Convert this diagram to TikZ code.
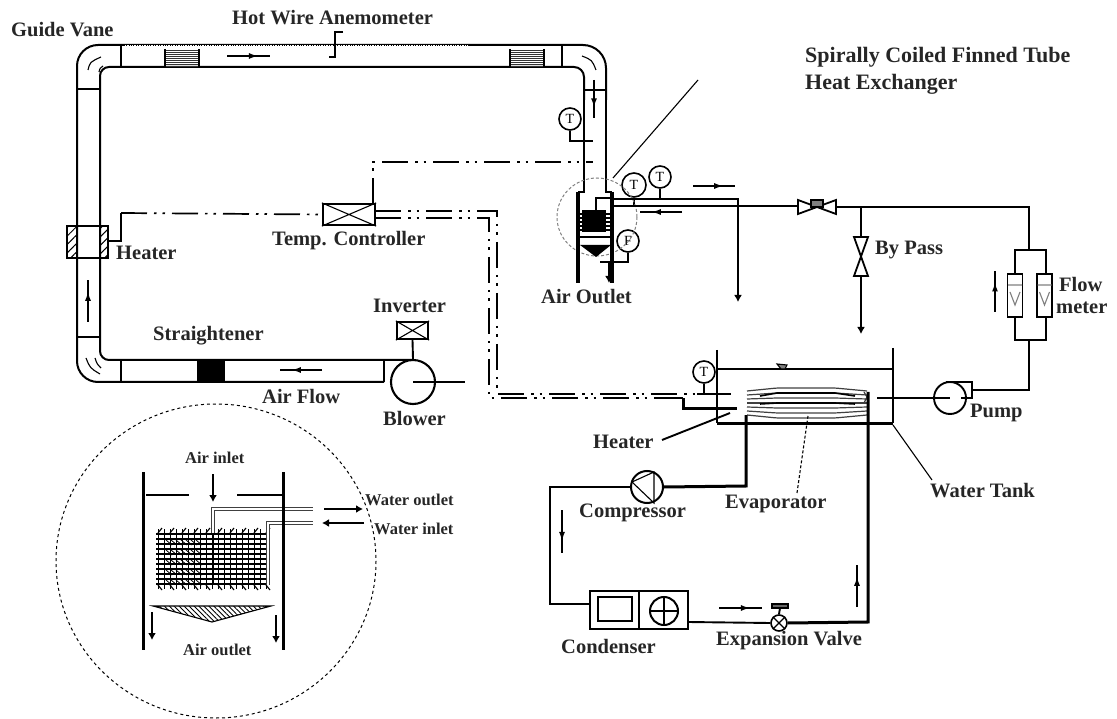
\documentclass[tikz,border=0pt]{standalone}
\usepackage{fontspec}
\setmainfont{Liberation Serif}
\usepackage{tikz}
\usetikzlibrary{arrows.meta, decorations.markings, patterns.meta}

\tikzset{
  lbl/.style={font=\fontsize{20.5}{27}\selectfont\bfseries, anchor=west, inner sep=0pt, text=black!85},
  smalllbl/.style={font=\fontsize{16.5}{18}\selectfont\bfseries, anchor=west, inner sep=0pt, text=black!85},
  duct/.style={line width=2pt},
  thin line/.style={line width=1.1pt},
  pipe/.style={line width=1.9pt},
  fatpipe/.style={line width=3pt},
  ctrlwire/.style={line width=1.7pt, dash pattern=on 26pt off 7pt on 2.5pt off 6pt on 2.5pt off 7pt},
  flow/.style={line width=1.5pt, decoration={markings, mark=at position 0.72 with {\arrow{Latex[length=9pt,width=6pt]}}}, postaction={decorate}},
  fatflow/.style={line width=2.8pt, -{Latex[length=7pt,width=8pt]}},
  gauge/.style={circle, draw, line width=1.6pt, minimum size=22pt, inner sep=0pt, font=\fontsize{14}{15}\selectfont, fill=white},
  xbox/.style={draw, line width=2.2pt, minimum width=#1, inner sep=0pt, fill=white},
  bowtie/.style={draw, line width=1.8pt, fill=white},
  tubepipe/.style={line width=3.4pt, black!75},
  tubecore/.style={line width=1.1pt, white},
}

\begin{document}
\begin{tikzpicture}[x=1pt, y=-1pt]
\useasboundingbox (0,0) rectangle (1117,719);

% air duct
\draw[duct, rounded corners=21pt] (121,45) -- (77,45) -- (77,382) -- (384,382);
\draw[duct, rounded corners=9pt] (121,67) -- (100,67) -- (100,360) -- (413,360);
\draw[duct, rounded corners=23pt] (121,45) -- (606,45) -- (606,100);
\draw[duct] (606,100) -- (606,192) -- (612,192);
\draw[duct, rounded corners=10pt] (121,67) -- (584,67) -- (584,100);
\draw[duct] (584,100) -- (584,192) -- (578,192);
\draw[thin line] (121,45) -- (121,67) (562,45) -- (562,67);
\draw[thin line] (77,89) -- (100,89) (584,90) -- (606,90) (77,337) -- (100,337) (121,360) -- (121,382);
\draw[thin line] (384,360) -- (384,382);
\draw[line width=0.7pt, densely dotted, white] (125,45) -- (468,45);
% guide vanes
\draw[thin line] (88,70) .. controls (90,62) .. (101,57);
\draw[thin line] (99,72) .. controls (100,68) .. (103,66);
\draw[thin line] (582,56) .. controls (592,60) .. (596,70);
\draw[thin line] (86,358) .. controls (90,368) .. (100,374);
\draw[thin line] (95,358) .. controls (97,364) .. (101,368);
% honeycomb pieces
\foreach \x in {165,510} {
  \foreach \y in {50,52,...,66} \draw[line width=0.8pt, black!80] (\x,\y) -- (\x+34,\y);
  \draw[thin line] (\x,49) -- (\x,67) (\x+34,49) -- (\x+34,67);
}
\fill (197,360) rectangle (225,382);
\draw[flow] (227,56) -- (270,56);
\draw[flow] (594,80) -- (594,118);
\draw[flow] (88,322) -- (88,280);
\draw[flow] (322,370) -- (280,370);
\draw[pipe] (343,32) -- (335,32) -- (335,57) -- (329,57);

% heater in duct
\fill[pattern={Lines[angle=45, distance=6pt, line width=1pt]}] (67,226) rectangle (77,258) (100,226) rectangle (108,258);
\draw[line width=2pt] (67,226) rectangle (108,258);
\coordinate (ductheat) at (108,241);

% controller and wires
\node[xbox=52pt, minimum height=21pt] (controller) at (349,214.5) {};
\draw[thin line] (controller.north west) -- (controller.south east) (controller.south west) -- (controller.north east);
\coordinate (wirebend) at (121,213);
\draw[pipe] (ductheat) -| (wirebend);
\draw[ctrlwire] (wirebend) -- (controller.west);
\coordinate (probetop) at (593,162);
\draw[ctrlwire] (373,204) -- (373,162) -- (probetop);
\coordinate (wireA) at (697,394);
\coordinate (wireB) at (673,398);
\draw[ctrlwire] (375,211) -- (497,211) -- (497,394) -- (wireA);
\draw[ctrlwire] (375,218) -- (489,218) -- (489,398) -- (wireB);

% blower and inverter
\node[circle, draw, line width=2.1pt, minimum size=44pt, inner sep=0pt, fill=white] (blower) at (413,382) {};
\coordinate (blowerout) at (465,382);
\draw[thin line] (blower.center) -- (blowerout);
\node[xbox=31pt, minimum height=17pt] (inverter) at (412.5,330.5) {};
\draw[thin line] (inverter.north west) -- (inverter.south east) (inverter.south west) -- (inverter.north east);
\draw[pipe] (inverter.south) -- (blower.north);

% gauges on the test section
\node[gauge] (gaugeA) at (570,119) {T};
\node[gauge, minimum size=24pt] (gaugeB) at (634,185) {T};
\node[gauge] (gaugeC) at (660,177) {T};
\node[gauge] (gaugeD) at (628,241) {F};
\coordinate (gaugeAend) at (593,141);
\coordinate (gaugeDend) at (600,262);
\draw[pipe] (gaugeA.south) |- (gaugeAend);
\draw[pipe] (gaugeD.south) |- (gaugeDend);
\draw[pipe] (gaugeC.south) -- (660,199);
\draw[pipe] (gaugeB.south) -- (634,206);

% small view of the heat exchanger
\draw[line width=1pt, densely dashed, gray] (597,217) ellipse[x radius=40, y radius=39];
\draw[thin line] (613,178) -- (698,80);
\fill (582,210) rectangle (606,232);
\foreach \y in {214,218,...,230} \draw[thin line] (576,\y) -- (612,\y);
\draw[line width=3.4pt] (578,192) -- (578,283) (612,192) -- (612,283);
\draw[pipe] (596,210) -- (596,198) -- (612,198);
\fill (580,245) -- (611,245) -- (596,257) -- cycle;
\draw[thin line] (580,237) -- (610,237);
\draw[fatflow, line width=2pt] (609,262) -- (609,283);

% water loop
\coordinate (loopin) at (612,199);
\coordinate (loopout) at (612,206);
\draw[line width=2.8pt] (loopin) -- (738,199) -- (738,285);
\draw[fatflow, line width=2.4pt] (738,280) -- (738,302);
\draw[line width=2.8pt] (loopout) -- (798,206);
\draw[flow] (693,186) -- (735,186);
\draw[flow] (682,212) -- (640,212);
% main valve
\draw[bowtie] (798,200) -- (798,214) -- (836,200) -- (836,214) -- cycle;
\draw[pipe, fill=black!50] (811,200) rectangle (823,207);
\coordinate (junction) at (861,207);
\coordinate (fmtop) at (1029,250);
\draw[line width=2.8pt] (836,207) -- (1029,207) -- (fmtop);
% by pass
\draw[bowtie] (854,237) -- (868,237) -- (854,276) -- (868,276) -- cycle;
\draw[pipe] (junction) -- (861,237);
\draw[pipe] (861,276) -- (861,320);
\draw[fatflow, line width=2pt] (861,314) -- (861,334);
\draw[flow] (995,312) -- (995,271);

% flow meters
\coordinate (fmbot) at (1029,340);
\draw[pipe] (1015,274) |- (1046,250) -- (1046,274);
\draw[pipe] (1015,317) |- (1046,340) -- (1046,317);
\foreach \x/\n in {1015/fmA, 1044.5/fmB} {
  \node[draw, line width=1.8pt, minimum width=15pt, minimum height=43pt, inner sep=0pt, fill=white] (\n) at (\x,295.5) {};
  \draw[thin line, gray] (\x-7,285) -- (\x+7,285) (\x-5,292) -- (\x,305) -- (\x+5,292);
}

% pump
\node[circle, draw, line width=1.9pt, minimum size=32pt, inner sep=0pt] (pump) at (950,398) {};
\coordinate (tankpipe) at (877,398);
\coordinate (pumpcorner) at (972,390);
\draw[pipe] (tankpipe) -- (pump.center);
\draw[pipe] (946,382) -- (972,382) -- (972,398) -- (961,398);
\draw[pipe] (pumpcorner) -- (1029,390) -- (fmbot);

% water tank
\draw[pipe] (717,350) -- (717,423);
\draw[pipe] (893,348) -- (893,423);
\draw[fatpipe] (717,423) -- (893,423);
\draw[thin line] (717,369) -- (893,369);
\draw[thin line, fill=black!50] (777,364) -- (787,365) -- (785,369) -- (781,369) -- cycle;
% evaporator coil
\foreach \y in {388,393,...,418} \draw[line width=1.2pt, black!75, rounded corners=3pt] (747,{403+(\y-403)*0.8}) -- (777,\y) -- (835,\y) -- (867,{403+(\y-403)*0.8});
\foreach \y in {393,403} \draw[line width=1.6pt] (760,{403+(\y-403)*0.8+1}) -- (777,\y) -- (835,\y) -- (855,{403+(\y-403)*0.8+1});
\draw[line width=1.2pt, black!75] (864,392) -- (867,397) -- (864,403);
\node[gauge] (gaugeE) at (704,372) {T};
\draw[pipe] (gaugeE.south) -- (704,394);
\draw[pipe] (wireA) -- (731,394);
\draw[pipe] (wireB) -- (683,398);
\draw[fatpipe] (683,398) -- (683,408) -- (737,408);

% refrigerant loop
\node[circle, draw, line width=2pt, minimum size=32pt, inner sep=0pt, fill=white] (compressor) at (647,487) {};
\draw[thin line] (632,482) -- (654,472) -- (654,503) -- cycle;
\node[draw, line width=1.8pt, minimum width=98pt, minimum height=38pt, inner sep=0pt] (condenser) at (639,610) {};
\draw[thin line] (639,591) -- (639,629);
\draw[pipe] (598,597) rectangle (632,621);
\node[circle, draw, line width=2pt, minimum size=28pt, inner sep=0pt] (fan) at (664,611) {};
\draw[pipe] (fan.west) -- (fan.east) (fan.north) -- (fan.south);
\node[circle, draw, line width=1.6pt, minimum size=16pt, inner sep=0pt] (expvalve) at (779,623) {};
\draw[thin line] (expvalve.north west) -- (expvalve.south east) (expvalve.south west) -- (expvalve.north east);
\draw[line width=1.4pt, fill=black!60] (772,604) rectangle (788,608);
\draw[pipe] (780,608) -- (expvalve.north);
\coordinate (evapin) at (868,392);
\coordinate (evapout) at (746,415);
\draw[fatpipe] (evapout) -- (746,486) -- (compressor.east);
\draw[pipe] (compressor.west) -- (550,487) -- (550,604) -- (590,604);
\draw[pipe] (688,622) -- (expvalve.west);
\draw[fatpipe] (expvalve.east) -- (868,622) -- (evapin);
\draw[flow] (562,510) -- (562,553);
\draw[flow] (719,608) -- (762,608);
\draw[flow] (857,607) -- (857,565);

% leaders
\draw[pipe] (662,440) -- (730,413);
\draw[thin line, densely dashed] (797,493) -- (808,416);
\draw[thin line] (893,425) -- (932,480);

% enlarged view
\draw[line width=1pt, dashed] (216,561) ellipse[x radius=160, y radius=157];
\draw[line width=3pt] (143,472) -- (143,650) (283,472) -- (283,650);
\draw[pipe] (146,495) -- (189,495) (237,495) -- (283,495);
\draw[fatflow] (213,474) -- (213,502);
% finned coil
\foreach \x in {158,164,...,266} \draw[line width=1pt] (\x,529) -- (\x,589);
\foreach \y in {534,539,...,584} \draw[line width=1.1pt] (156,\y) -- (268,\y);
\foreach \x in {166,171,...,200} \foreach \y in {540,550,...,580} \draw[line width=0.8pt] (\x,\y) -- (\x+6,\y+5);
\foreach \x in {158,170,...,266} {
  \draw[thin line] (\x,533) -- (\x+4,528);
  \draw[thin line] (\x,585) -- (\x+4,590);
}
\draw[line width=2.2pt] (213,535) -- (213,585);
\draw[tubepipe] (213,533) -- (213,509) -- (313,509);
\draw[tubecore] (213,533) -- (213,509) -- (313,509);
\draw[tubepipe] (268,585) -- (268,523) -- (313,523);
\draw[tubecore] (268,585) -- (268,523) -- (313,523);
\draw[line width=3pt] (283,500) -- (283,530);
\draw[fatflow, line width=2.2pt] (324,509) -- (363,509);
\draw[fatflow, line width=2.2pt] (364,523) -- (322,523);
% collecting cone
\fill[pattern={Lines[angle=-45, distance=3.5pt, line width=0.9pt]}] (153,606) -- (271,606) -- (212,622) -- cycle;
\draw[thin line] (212,622) -- (153,606) -- (271,606) -- cycle;
\draw[fatflow] (152,612) -- (152,640);
\draw[fatflow] (276,615) -- (276,643);

% labels
\node[lbl] (lblwire) at (232,18) {Hot Wire Anemometer};
\node[lbl] (lblvane) at (11,30) {Guide Vane};
\node[lbl, font=\fontsize{22}{27}\selectfont\bfseries, align=left] (lblhx) at (805,70.5) {Spirally Coiled Finned Tube\\Heat Exchanger};
\node[lbl] (lblduct) at (116,253) {Heater};
\node[lbl] (lblctrl) at (272,241) {Temp. Controller};
\node[lbl] (lbloutlet) at (541,297) {Air Outlet};
\node[lbl] (lblbypass) at (875,250) {By Pass};
\node[lbl] (lblflowa) at (1059,284) {Flow};
\node[lbl] (lblflowb) at (1056,308) {meter};
\node[lbl] (lblinv) at (373,306) {Inverter};
\node[lbl] (lblstr) at (153,336) {Straightener};
\node[lbl] (lblair) at (262,396) {Air Flow};
\node[lbl] (lblblow) at (383,418) {Blower};
\node[lbl] (lblpump) at (970,413) {Pump};
\node[lbl] (lbltank) at (593,442) {Heater};
\node[lbl] (lblevap) at (725,504) {Evaporator};
\node[lbl] (lblcomp) at (579,513) {Compressor};
\node[lbl] (lblwt) at (930,491) {Water Tank};
\node[lbl] (lblcond) at (561,646) {Condenser};
\node[lbl] (lblexp) at (716,641) {Expansion Valve};
\node[smalllbl] (lblin) at (185,458) {Air inlet};
\node[smalllbl] (lblout) at (183,650) {Air outlet};
\node[smalllbl] (lblwo) at (365,500) {Water outlet};
\node[smalllbl] (lblwi) at (374,529) {Water inlet};
\end{tikzpicture}
\end{document}
